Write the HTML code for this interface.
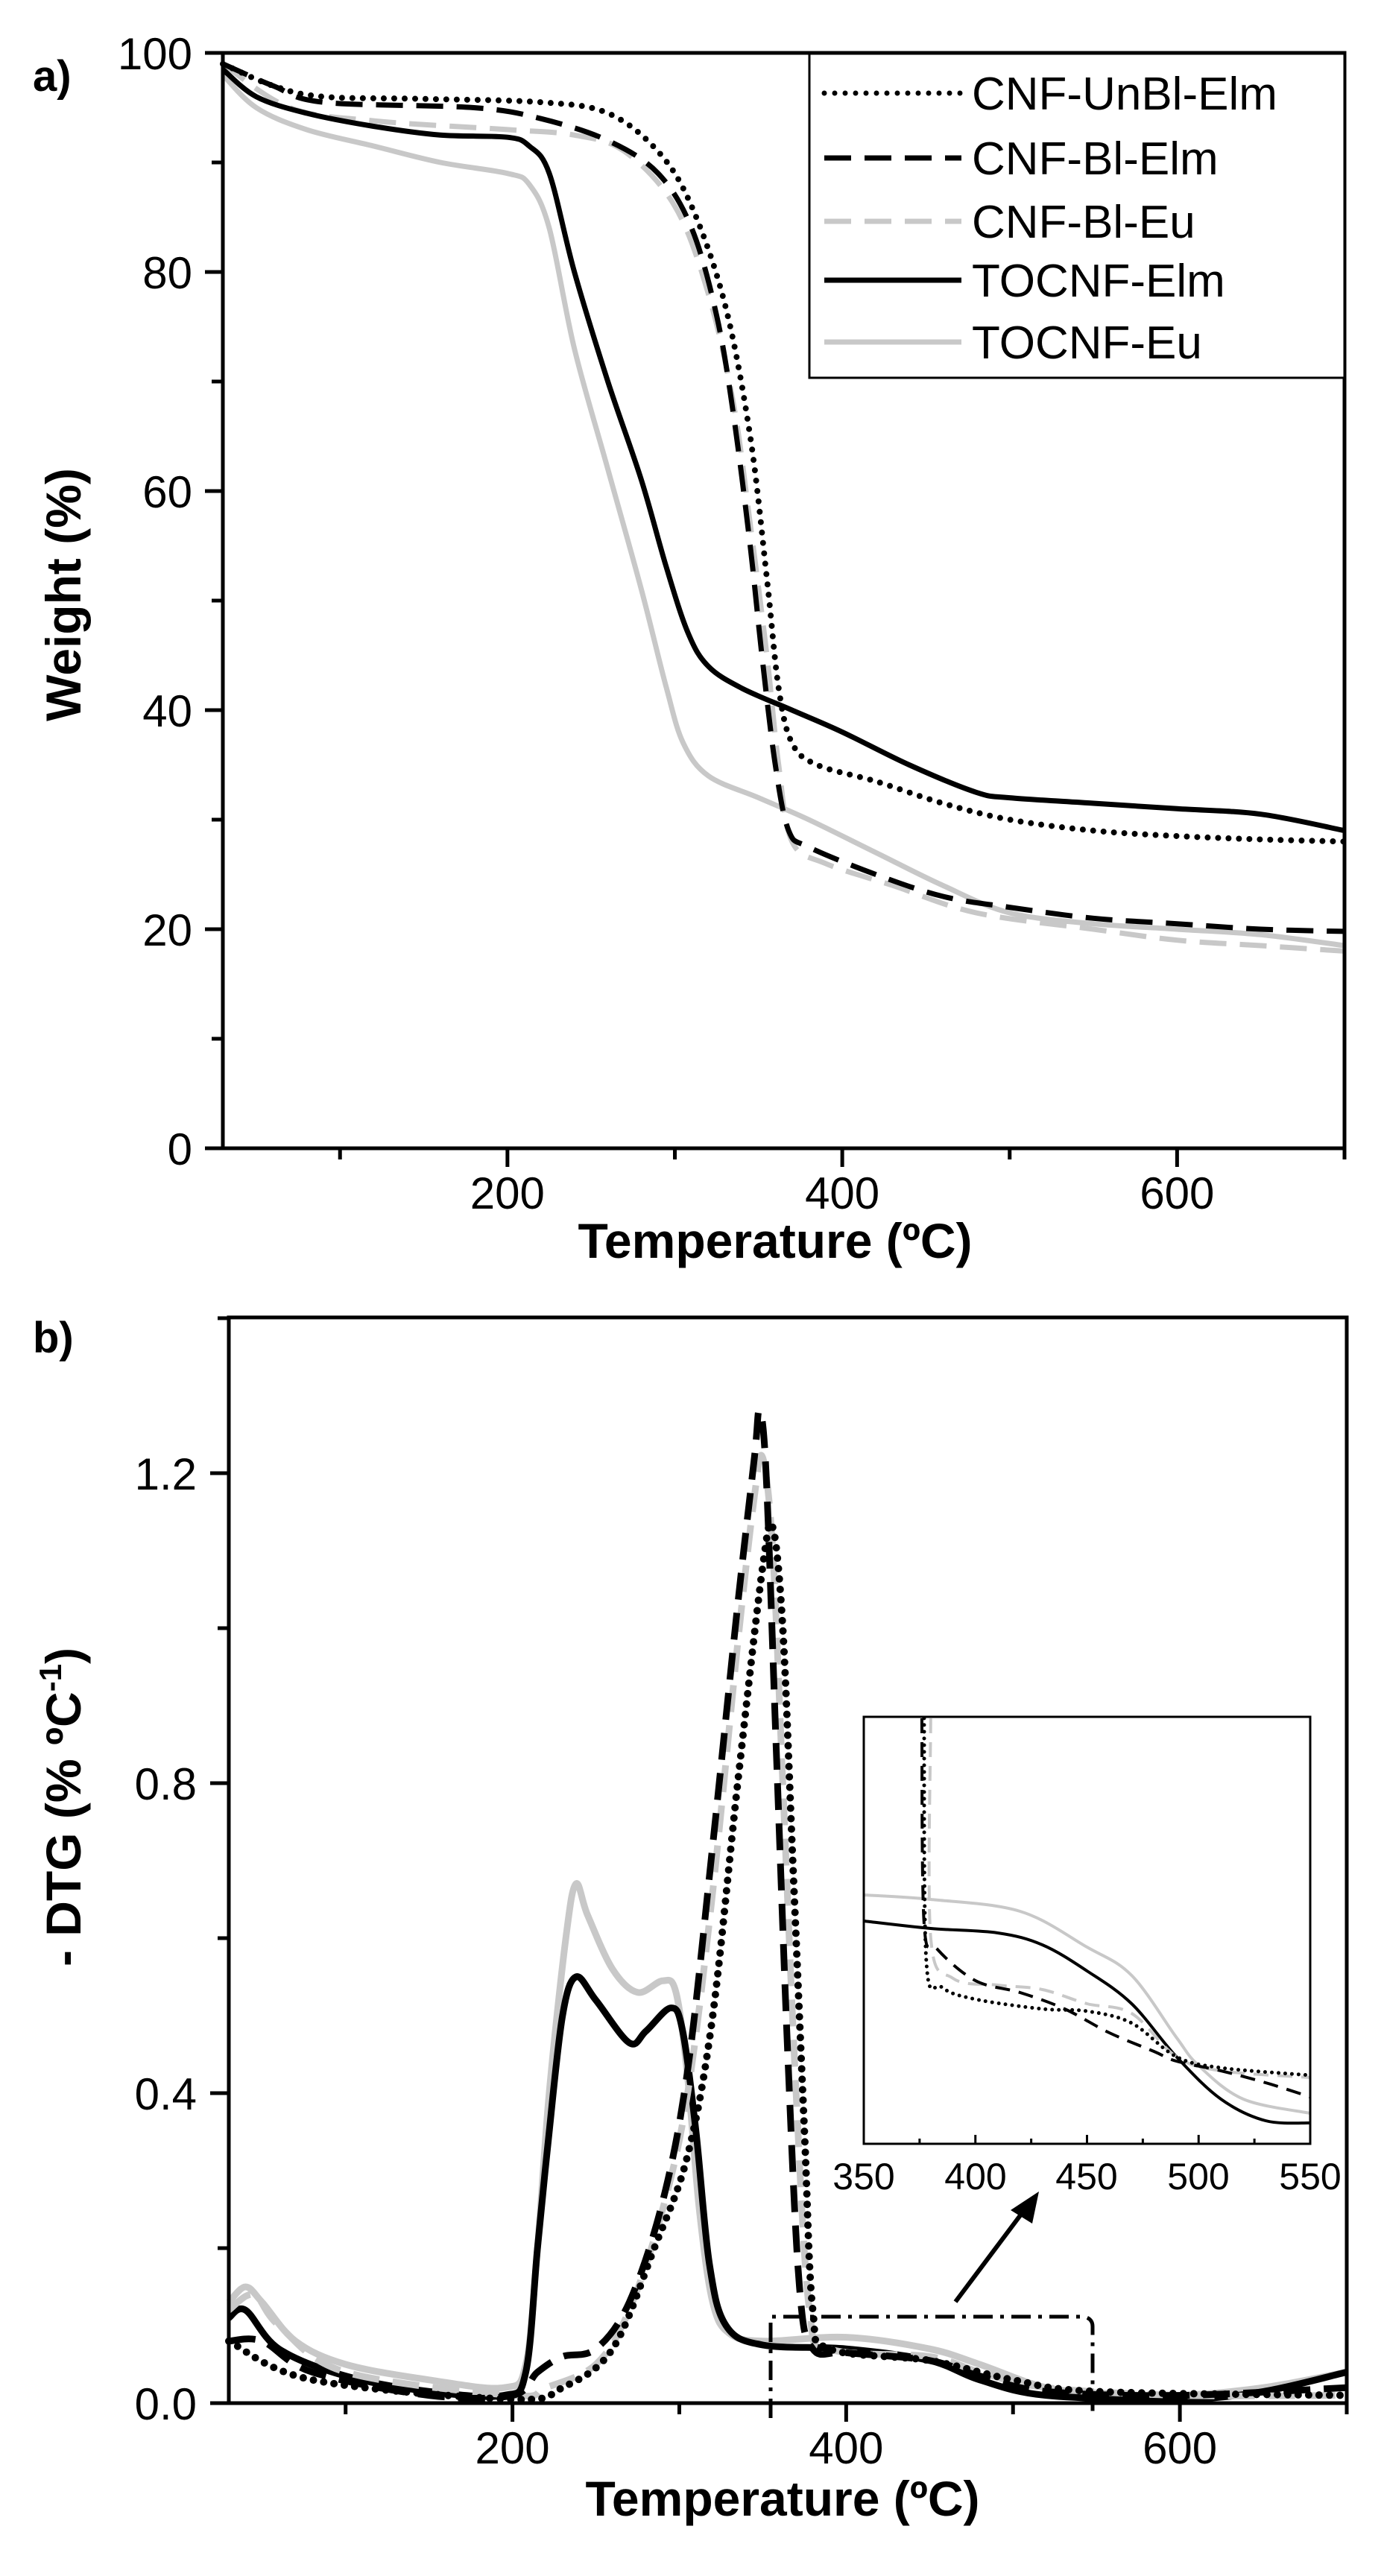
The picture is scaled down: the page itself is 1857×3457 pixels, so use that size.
<!DOCTYPE html>
<html><head><meta charset="utf-8"><style>
html,body{margin:0;padding:0;background:#fff}
svg{display:block}
text{font-family:"Liberation Sans",Arial,sans-serif;fill:#000}
</style></head><body>
<svg id="s" xmlns="http://www.w3.org/2000/svg" width="1857" height="3457" viewBox="0 0 1857 3457">
<rect width="1857" height="3457" fill="#fff"/>
<g id="ga"></g>
<g id="gb"></g>
<g id="gi"></g>
<g id="axes"></g>
<text x="44" y="122" font-size="58" font-weight="bold">a)</text>
<text x="44" y="1815" font-size="58" font-weight="bold">b)</text>
<text x="1040" y="1688" font-size="66" font-weight="bold" text-anchor="middle">Temperature (ºC)</text>
<text x="1050" y="3376" font-size="66" font-weight="bold" text-anchor="middle">Temperature (ºC)</text>
<text transform="translate(108,798) rotate(-90)" font-size="66" font-weight="bold" text-anchor="middle">Weight (%)</text>
<text transform="translate(108,2425) rotate(-90)" font-size="66" font-weight="bold" text-anchor="middle">- DTG (% ºC<tspan font-size="42" dy="-26">-1</tspan><tspan dy="26">)</tspan></text>
<g id="lbl" font-size="60"></g>
<rect x="1086" y="72" width="718" height="435" fill="#fff" stroke="#000" stroke-width="3"/>
<g stroke-width="7" fill="none">
<line x1="1106" y1="125" x2="1290" y2="125" stroke="#000" stroke-dasharray="0 14" stroke-linecap="round"/>
<line x1="1106" y1="212" x2="1290" y2="212" stroke="#000" stroke-dasharray="36 18"/>
<line x1="1106" y1="297" x2="1290" y2="297" stroke="#c8c8c8" stroke-dasharray="36 18"/>
<line x1="1106" y1="376" x2="1290" y2="376" stroke="#000"/>
<line x1="1106" y1="459" x2="1290" y2="459" stroke="#c8c8c8"/>
</g>
<g font-size="62">
<text x="1304" y="147">CNF-UnBl-Elm</text>
<text x="1304" y="234">CNF-Bl-Elm</text>
<text x="1304" y="319">CNF-Bl-Eu</text>
<text x="1304" y="398">TOCNF-Elm</text>
<text x="1304" y="481">TOCNF-Eu</text>
</g>
<rect x="1159" y="2304" width="599" height="573" fill="none" stroke="#000" stroke-width="3"/>
<g font-size="50" text-anchor="middle">
<text x="1159" y="2938">350</text><text x="1309" y="2938">400</text><text x="1458" y="2938">450</text><text x="1608" y="2938">500</text><text x="1758" y="2938">550</text>
</g>
<path d="M1034,3245 L1034,3109 L1455,3109 Q1466,3112 1466,3122 L1466,3245" fill="none" stroke="#000" stroke-width="5" stroke-dasharray="26 10 5 10"/>
<line x1="1282" y1="3089" x2="1375" y2="2965" stroke="#000" stroke-width="6"/>
<polygon points="1394,2941 1356,2966 1385,2984" fill="#000"/>
</svg>
<script>
var NS="http://www.w3.org/2000/svg";
function el(p,t,a){var e=document.createElementNS(NS,t);for(var k in a)e.setAttribute(k,a[k]);p.appendChild(e);return e;}
function cr(pts){var d="M"+pts[0][0].toFixed(1)+","+pts[0][1].toFixed(1);
 for(var i=0;i<pts.length-1;i++){var p0=pts[i-1]||pts[i],p1=pts[i],p2=pts[i+1],p3=pts[i+2]||p2;
 var c1=[p1[0]+(p2[0]-p0[0])/6,p1[1]+(p2[1]-p0[1])/6],c2=[p2[0]-(p3[0]-p1[0])/6,p2[1]-(p3[1]-p1[1])/6];
 d+=" C"+c1[0].toFixed(1)+","+c1[1].toFixed(1)+" "+c2[0].toFixed(1)+","+c2[1].toFixed(1)+" "+p2[0].toFixed(1)+","+p2[1].toFixed(1);}
 return d;}
var GR="#c8c8c8";
var styles={dot:{stroke:"#000","stroke-dasharray":"0 14","stroke-linecap":"round"},
 dash:{stroke:"#000","stroke-dasharray":"36 18"},gdash:{stroke:GR,"stroke-dasharray":"36 18"},
 solid:{stroke:"#000"},gsolid:{stroke:GR}};
function draw(g,data,fx,fy,sw,order){order.forEach(function(k){var s=data[k];var pts=s.p.map(function(q){return [fx(q[0]),fy(q[1])];});
 var a={d:cr(pts),fill:"none","stroke-width":sw,"stroke-linejoin":"round"};for(var z in styles[s.st])a[z]=styles[s.st][z];
 if(s.st=="dot")a["stroke-width"]=sw+1;el(g,"path",a);});}
var ax=function(T){return 299+(T-30)*1505/670;}, ay=function(w){return 1541-w*14.7;};
var A={
u:{st:"dot",p:[[30,99],[60,97],[90,96],[150,95.8],[220,95.5],[260,94.5],[290,91],[310,86],[330,77],[345,65],[355,52],[362,42],[370,37],[385,35],[420,33.5],[460,31.5],[500,30],[550,29],[600,28.5],[650,28.2],[700,28]]},
be:{st:"dash",p:[[30,99],[60,97],[90,95.5],[180,95],[220,94],[260,92],[290,89],[310,84],[325,76],[335,67],[345,55],[352,45],[360,35],[368,29],[380,27.5],[420,25],[460,23],[500,22],[550,21],[600,20.5],[650,20],[700,19.8]]},
bu:{st:"gdash",p:[[30,99],[70,95],[120,93.8],[200,93],[240,92.5],[270,91],[300,86],[320,78],[335,68],[345,57],[355,45],[362,35],[370,28],[390,26],[430,24],[480,21.5],[550,20],[600,19],[650,18.5],[700,18]]},
te:{st:"solid",p:[[30,98.5],[50,96],[80,94.5],[120,93.3],[160,92.5],[200,92.3],[213,91.5],[225,89],[240,80],[260,70],[280,61],[295,53],[308,47],[320,44],[340,42],[370,40],[400,38],[440,35],[480,32.5],[500,32],[550,31.5],[600,31],[650,30.5],[700,29]]},
tu:{st:"gsolid",p:[[30,98],[50,95],[80,93],[120,91.5],[160,90],[200,89],[213,88],[225,84],[240,73],[260,62],[280,51],[295,42],[305,37],[320,34],[350,32],[380,30],[420,27],[460,24],[500,21.5],[550,20.5],[600,20],[650,19.5],[700,18.5]]}};
draw(document.getElementById("ga"),A,ax,ay,7,["tu","bu","te","be","u"]);
var bx=function(T){return 307+(T-30)*1500/670;}, by=function(d){return 3225-d*1040;};
var B={
tu:{st:"gsolid",p:[[30,0.13],[40,0.15],[50,0.13],[70,0.08],[100,0.05],[150,0.03],[195,0.02],[208,0.05],[215,0.2],[222,0.4],[232,0.6],[238,0.67],[245,0.63],[260,0.56],[275,0.53],[290,0.545],[298,0.53],[305,0.42],[312,0.25],[320,0.13],[330,0.09],[350,0.08],[400,0.085],[450,0.07],[480,0.05],[520,0.02],[560,0.012],[600,0.01],[650,0.02],[700,0.04]]},
te:{st:"solid",p:[[30,0.11],[40,0.12],[60,0.07],[100,0.035],[150,0.015],[195,0.01],[208,0.04],[215,0.2],[222,0.35],[230,0.5],[238,0.55],[250,0.52],[270,0.465],[280,0.48],[295,0.51],[302,0.48],[310,0.35],[318,0.18],[328,0.1],[350,0.075],[400,0.07],[450,0.055],[480,0.03],[520,0.01],[600,0.005],[650,0.015],[700,0.04]]},
bu:{st:"gdash",p:[[30,0.12],[45,0.14],[60,0.1],[100,0.04],[200,0.01],[220,0.02],[250,0.05],[270,0.12],[290,0.25],[305,0.4],[320,0.66],[335,0.98],[345,1.17],[350,1.22],[356,1.1],[362,0.8],[370,0.4],[378,0.12],[390,0.07],[450,0.06],[480,0.04],[520,0.02],[600,0.01],[700,0.01]]},
be:{st:"dash",p:[[30,0.08],[50,0.08],[80,0.04],[150,0.01],[200,0.01],[215,0.04],[230,0.06],[250,0.07],[270,0.13],[290,0.26],[305,0.43],[320,0.72],[335,1.03],[345,1.22],[348,1.28],[352,1.2],[358,0.85],[365,0.45],[372,0.15],[380,0.07],[400,0.065],[450,0.055],[480,0.035],[520,0.015],[600,0.01],[700,0.02]]},
u:{st:"dot",p:[[30,0.08],[80,0.03],[200,0.005],[230,0.02],[260,0.07],[285,0.2],[305,0.32],[320,0.5],[335,0.8],[350,1.08],[356,1.13],[362,1.0],[368,0.7],[375,0.35],[380,0.12],[390,0.07],[450,0.055],[500,0.03],[550,0.015],[700,0.01]]}};
draw(document.getElementById("gb"),B,bx,by,9,["tu","te","bu","be","u"]);
var ix=function(T){return 1159+(T-350)*599/200;}, iy=function(y){return y;};
var I={
tu:{st:"gsolid",p:[[350,2543],[380,2549],[420,2565],[450,2613],[470,2651],[490,2734],[500,2772],[520,2817],[550,2836]]},
te:{st:"solid",p:[[350,2578],[380,2588],[410,2594],[430,2610],[450,2645],[470,2689],[490,2760],[510,2817],[530,2846],[550,2849]]},
bu:{st:"gdash",p:[[380,2306],[380,2600],[390,2655],[410,2664],[430,2670],[450,2689],[470,2702],[490,2760],[510,2779],[550,2788]]},
be:{st:"dash",p:[[376,2306],[377,2581],[383,2616],[400,2658],[420,2674],[440,2696],[460,2728],[480,2753],[490,2766],[510,2779],[530,2795],[550,2814]]},
u:{st:"dot",p:[[377,2306],[378,2632],[385,2667],[400,2683],[430,2696],[450,2699],[470,2715],[490,2760],[510,2775],[550,2785]]}};
styles={dot:{stroke:"#000","stroke-dasharray":"0 9","stroke-linecap":"round"},dash:{stroke:"#000","stroke-dasharray":"20 12"},gdash:{stroke:GR,"stroke-dasharray":"20 12"},solid:{stroke:"#000"},gsolid:{stroke:GR}};
draw(document.getElementById("gi"),I,ix,iy,4,["tu","te","bu","be","u"]);
var gax=document.getElementById("axes"),lbl=document.getElementById("lbl");
for(var T=375;T<550;T+=25){el(gax,"line",{x1:ix(T),x2:ix(T),y1:2877,y2:T%50==0?2865:2870,stroke:"#000","stroke-width":3});}
el(gax,"rect",{x:299,y:71,width:1505,height:1470,fill:"none",stroke:"#000","stroke-width":5});
el(gax,"rect",{x:307,y:1768,width:1500,height:1457,fill:"none",stroke:"#000","stroke-width":5});
for(var w=0;w<=100;w+=10){var y=ay(w);el(gax,"line",{x1:299,x2:w%20==0?275:284,y1:y,y2:y,stroke:"#000","stroke-width":5});
 if(w%20==0){var t=el(lbl,"text",{x:258,y:y+22,"text-anchor":"end"});t.textContent=w;}}
for(var T=100;T<=700;T+=100){var x=ax(T);el(gax,"line",{x1:x,x2:x,y1:1541,y2:T%200==0?1566:1556,stroke:"#000","stroke-width":5});
 if(T%200==0){var t=el(lbl,"text",{x:x,y:1622,"text-anchor":"middle"});t.textContent=T;}}
for(var i=0;i<=7;i++){var d=i*0.2,y=by(d);el(gax,"line",{x1:307,x2:i%2==0?282:292,y1:y,y2:y,stroke:"#000","stroke-width":5});
 if(i%2==0){var t=el(lbl,"text",{x:264,y:y+22,"text-anchor":"end"});t.textContent=d.toFixed(1);}}
for(var T=100;T<=700;T+=100){var x=bx(T);el(gax,"line",{x1:x,x2:x,y1:3225,y2:T%200==0?3250:3240,stroke:"#000","stroke-width":5});
 if(T%200==0){var t=el(lbl,"text",{x:x,y:3306,"text-anchor":"middle"});t.textContent=T;}}
</script>
</body></html>
